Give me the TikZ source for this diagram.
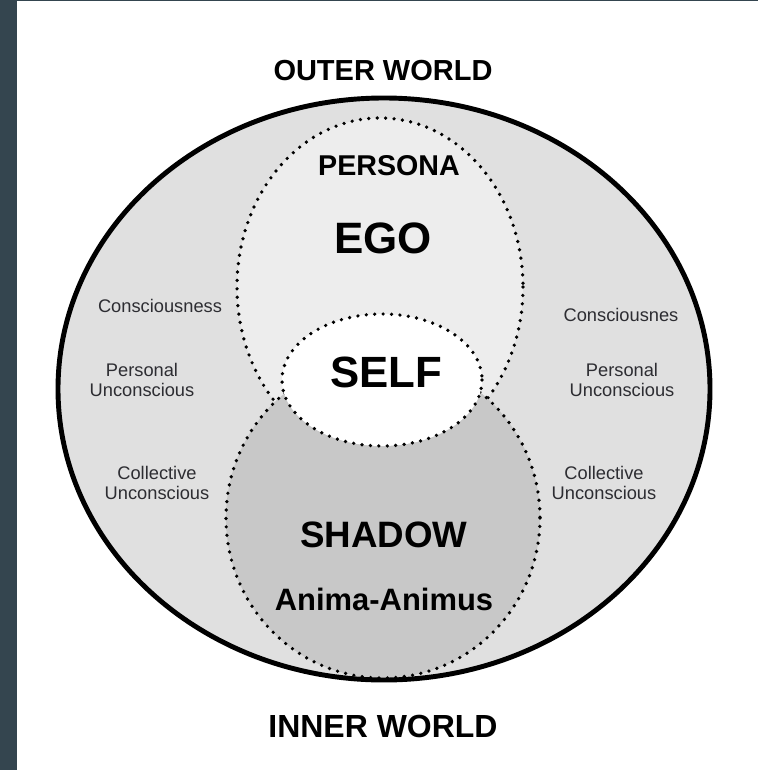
\documentclass[tikz,border=0pt]{standalone}
\usepackage{fontspec}
\setmainfont{Liberation Sans}
\definecolor{slate}{RGB}{52,69,79}
\definecolor{ring}{RGB}{224,224,224}
\definecolor{egofill}{RGB}{237,237,237}
\definecolor{shadefill}{RGB}{200,200,200}
\definecolor{labeltext}{RGB}{45,45,50}
\begin{document}
\begin{tikzpicture}[x=0.02cm,y=-0.02cm,
		dotrim/.style={line width=2.1pt,line cap=round,dash pattern=on 0pt off 4.8pt},
		title/.style={font=\bfseries\fontsize{#1}{#1}\selectfont,inner sep=0pt},
		small/.style={font=\fontsize{10.4}{11.9}\selectfont,text=labeltext,align=center,inner sep=0pt}]
	\fill[color=white] (0,0) rectangle (758,770);
	\fill[color=slate] (0,0) rectangle (17,770);
	\fill[color=slate] (0,0) rectangle (758,1.5);
	\fill[color=ring] (384,389) ellipse[x radius=326,y radius=291];
	\fill[color=egofill] (380,287) ellipse[x radius=143,y radius=169];
	\draw[dotrim] (380,287) ellipse[x radius=143,y radius=169];
	\fill[color=shadefill] (383,518) ellipse[x radius=157,y radius=160];
	\draw[dotrim] (383,518) ellipse[x radius=157,y radius=160];
	\fill[color=white] (382,380) ellipse[x radius=100,y radius=66];
	\draw[dotrim] (382,380) ellipse[x radius=100,y radius=66];
	\draw[line width=2.8pt] (384,389) ellipse[x radius=326,y radius=291];
	\node[title=16.5] (outer) at (383,70.5) {OUTER WORLD};
	\node[title=18.2] (inner) at (383,726) {INNER WORLD};
	\node[title=16.3] (persona) at (389,166) {PERSONA};
	\node[title=25] (ego) at (383,238) {EGO};
	\node[title=24.9] (self) at (386,372) {SELF};
	\node[title=20.9] (shadow) at (384,535) {SHADOW};
	\node[title=17.6] (anima) at (384,599) {Anima-Animus};
	\node[small] (conl) at (160,306) {Consciousness};
	\node[small] (perl) at (142,380) {Personal\\Unconscious};
	\node[small] (coll) at (157,483) {Collective\\Unconscious};
	\node[small] (conr) at (621,315) {Consciousnes};
	\node[small] (perr) at (622,380) {Personal\\Unconscious};
	\node[small] (colr) at (604,483) {Collective\\Unconscious};
\end{tikzpicture}
\end{document}
